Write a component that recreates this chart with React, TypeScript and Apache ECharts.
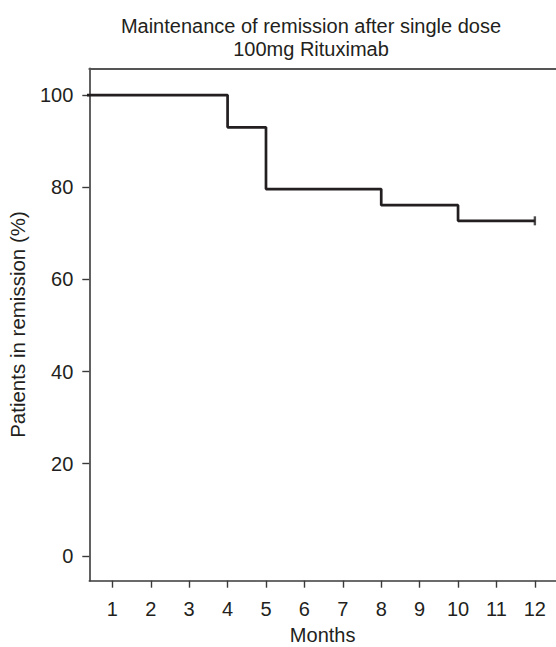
import React, { useEffect, useRef } from "react";
import * as echarts from "echarts";

const months = [0, 4, 5, 8, 10, 12];
const remission = [100, 93.0, 79.6, 76.1, 72.7, 72.7];
const censored = [[12, 72.7]];
const xTicks = [1, 2, 3, 4, 5, 6, 7, 8, 9, 10, 11, 12];
const yTicks = [0, 20, 40, 60, 80, 100];
const titleLines = ["Maintenance of remission after single dose", "100mg Rituximab"];

const FONT = "'Liberation Sans', Arial, Helvetica, sans-serif";

export default function App() {
  const ref = useRef<HTMLDivElement>(null);
  useEffect(() => {
    if (!ref.current) return;
    const chart = echarts.init(ref.current, undefined, { renderer: "svg" });
    const axisColor = "#3a3a3a";
    chart.setOption({
      animation: false,
      backgroundColor: "#ffffff",
      textStyle: { fontFamily: FONT },
      title: {
        text: titleLines.join("\n"),
        left: 306,
        top: 9,
        textAlign: "center",
        textStyle: {
          fontFamily: FONT,
          fontSize: 20,
          fontWeight: "normal",
          color: "#231f20",
          lineHeight: 23.5,
        },
      },
      grid: {
        left: 89.3,
        top: 68.3,
        right: 0,
        bottom: 66.3,
        containLabel: false,
        outerBoundsMode: "none",
      },
      xAxis: [
        {
          type: "value",
          min: 0.4,
          max: 12.55,
          position: "bottom",
          name: "Months",
          nameLocation: "middle",
          nameGap: 45,
          nameTextStyle: { fontFamily: FONT, fontSize: 20, color: "#231f20", lineHeight: 18 },
          axisLine: { show: true, onZero: false, lineStyle: { color: axisColor, width: 1.6 } },
          axisTick: {
            show: true,
            length: 7,
            customValues: xTicks,
            lineStyle: { color: axisColor, width: 1.4 },
          },
          axisLabel: {
            customValues: xTicks,
            margin: 18,
            fontFamily: FONT,
            fontSize: 20,
            color: "#231f20",
            showMinLabel: true,
            showMaxLabel: true,
          },
          splitLine: { show: false },
        },
        {
          type: "value",
          min: 0.4,
          max: 12.55,
          position: "top",
          axisLine: { show: true, onZero: false, lineStyle: { color: "#555555", width: 1.8 } },
          axisTick: { show: false },
          axisLabel: { show: false },
          splitLine: { show: false },
        },
      ],
      yAxis: {
        type: "value",
        min: -5.4,
        max: 105.8,
        name: "Patients in remission (%)",
        nameLocation: "middle",
        nameGap: 61,
        nameTextStyle: { fontFamily: FONT, fontSize: 20.5, color: "#231f20" },
        axisLine: { show: true, onZero: false, lineStyle: { color: axisColor, width: 1.6 } },
        axisTick: {
          show: true,
          length: 7,
          customValues: yTicks,
          lineStyle: { color: axisColor, width: 1.4 },
        },
        axisLabel: {
          customValues: yTicks,
          margin: 16,
          fontFamily: FONT,
          fontSize: 20,
          color: "#231f20",
        },
        splitLine: { show: false },
      },
      series: [
        {
          type: "line",
          step: "end",
          data: months.map((m, i) => [m, remission[i]]),
          showSymbol: false,
          symbol: "none",
          clip: true,
          lineStyle: { color: "#231f20", width: 2.7 },
        },
        {
          type: "scatter",
          data: censored,
          symbol: "rect",
          symbolSize: [2.4, 9],
          itemStyle: { color: "#231f20" },
          clip: false,
        },
      ],
    });
    return () => chart.dispose();
  }, []);
  return <div ref={ref} style={{ width: 556, height: 647, position: "absolute", left: 0, top: 0 }} />;
}
